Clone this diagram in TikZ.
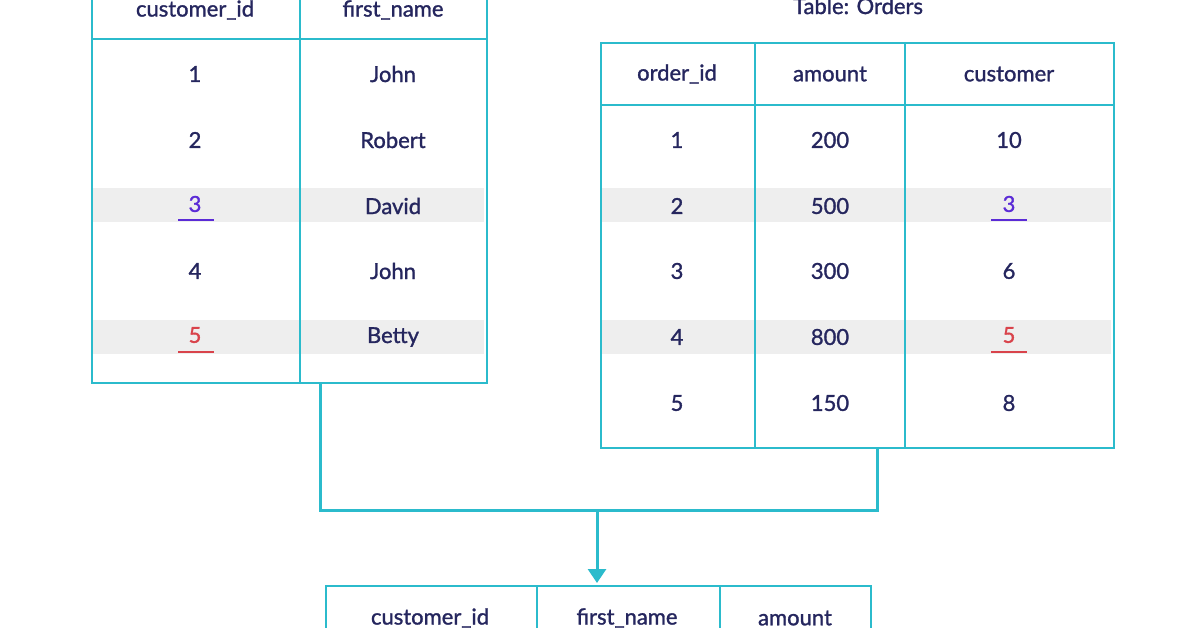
\documentclass[tikz,border=0pt]{standalone}
\usepackage{fontspec}
\setmainfont{Lato}[FakeBold=1.3]
\usetikzlibrary{arrows.meta}
\definecolor{teal}{HTML}{2BBBCC}
\definecolor{ink}{HTML}{25265E}
\definecolor{pur}{HTML}{5B2BD6}
\definecolor{red5}{HTML}{D9434B}
\definecolor{band}{HTML}{EEEEEE}
\begin{document}
\begin{tikzpicture}[x=1pt,y=-1pt,
  tl/.style={draw=teal,line width=2.2pt},
  t/.style={text=ink,font=\fontsize{22}{24}\selectfont},
  conn/.style={draw=teal,line width=3pt}]
\useasboundingbox (0,0) rectangle (1196,628);
% bands
\fill[band] (93,188) rectangle (484,222);
\fill[band] (93,320) rectangle (484,354);
\fill[band] (602,188) rectangle (1111,222);
\fill[band] (602,320) rectangle (1111,354);
% left table
\node[tl,minimum width=395pt,minimum height=392pt,inner sep=0,anchor=north west] (L) at (91,-10) {};
\draw[tl] (91,39) -- (486,39);
\draw[tl] (300,-10) -- (300,382);
% right table
\node[tl,minimum width=513pt,minimum height=405pt,inner sep=0,anchor=north west] (R) at (600,42) {};
\draw[tl] (600,105) -- (1113,105);
\draw[tl] (755,42) -- (755,447);
\draw[tl] (905,42) -- (905,447);
\node[t] (rt) at (858,6) {Table: Orders};
% bottom table
\node[tl,minimum width=545pt,minimum height=60pt,inner sep=0,anchor=north west] (B) at (325,585) {};
\draw[tl] (537,585) -- (537,640);
\draw[tl] (720,585) -- (720,640);
% left texts
\node[t] (lh1) at (195,10) {customer\_id};
\node[t] (lh2) at (393,10) {first\_name};
\foreach \y/\a/\b [count=\i] in {74/1/John,140/2/Robert,271/4/John}{
  \node[t] (la\i) at (195,\y) {\a};
  \node[t] (lb\i) at (393,\y) {\b};}
\node[t,text=pur] (l3) at (195,204) {3};
\draw[pur,line width=2.2pt] (178,220) -- (214,220);
\node[t] (l3b) at (393,206) {David};
\node[t,text=red5] (l5) at (195,335) {5};
\draw[red5,line width=2.2pt] (178,352) -- (214,352);
\node[t] (l5b) at (393,337) {Betty};
% right texts
\node[t] (rh1) at (677,74) {order\_id};
\node[t] (rh2) at (830,74) {amount};
\node[t] (rh3) at (1009,74) {customer};
\foreach \y/\a/\b/\c [count=\i] in {140/1/200/10,271/3/300/6,403/5/150/8}{
  \node[t] (ra\i) at (677,\y) {\a};
  \node[t] (rb\i) at (830,\y) {\b};
  \node[t] (rc\i) at (1009,\y) {\c};}
\node[t] (r2a) at (677,206) {2};
\node[t] (r2b) at (830,206) {500};
\node[t,text=pur] (r2c) at (1009,204) {3};
\draw[pur,line width=2.2pt] (991,220) -- (1027,220);
\node[t] (r4a) at (677,337) {4};
\node[t] (r4b) at (830,337) {800};
\node[t,text=red5] (r4c) at (1009,335) {5};
\draw[red5,line width=2.2pt] (991,352) -- (1027,352);
% bottom texts
\node[t] (bh1) at (430,618) {customer\_id};
\node[t] (bh2) at (627,618) {first\_name};
\node[t] (bh3) at (795,618) {amount};
% connectors
\coordinate (ls) at (320,382);
\coordinate (rs) at (877,447);
\coordinate (j) at (597,510);
\draw[conn] (ls) -- (320,510) -- (877,510) -- (rs);
\draw[conn,-{Triangle[length=14pt,width=18pt]}] (j) -- (597,583);
\end{tikzpicture}
\end{document}
